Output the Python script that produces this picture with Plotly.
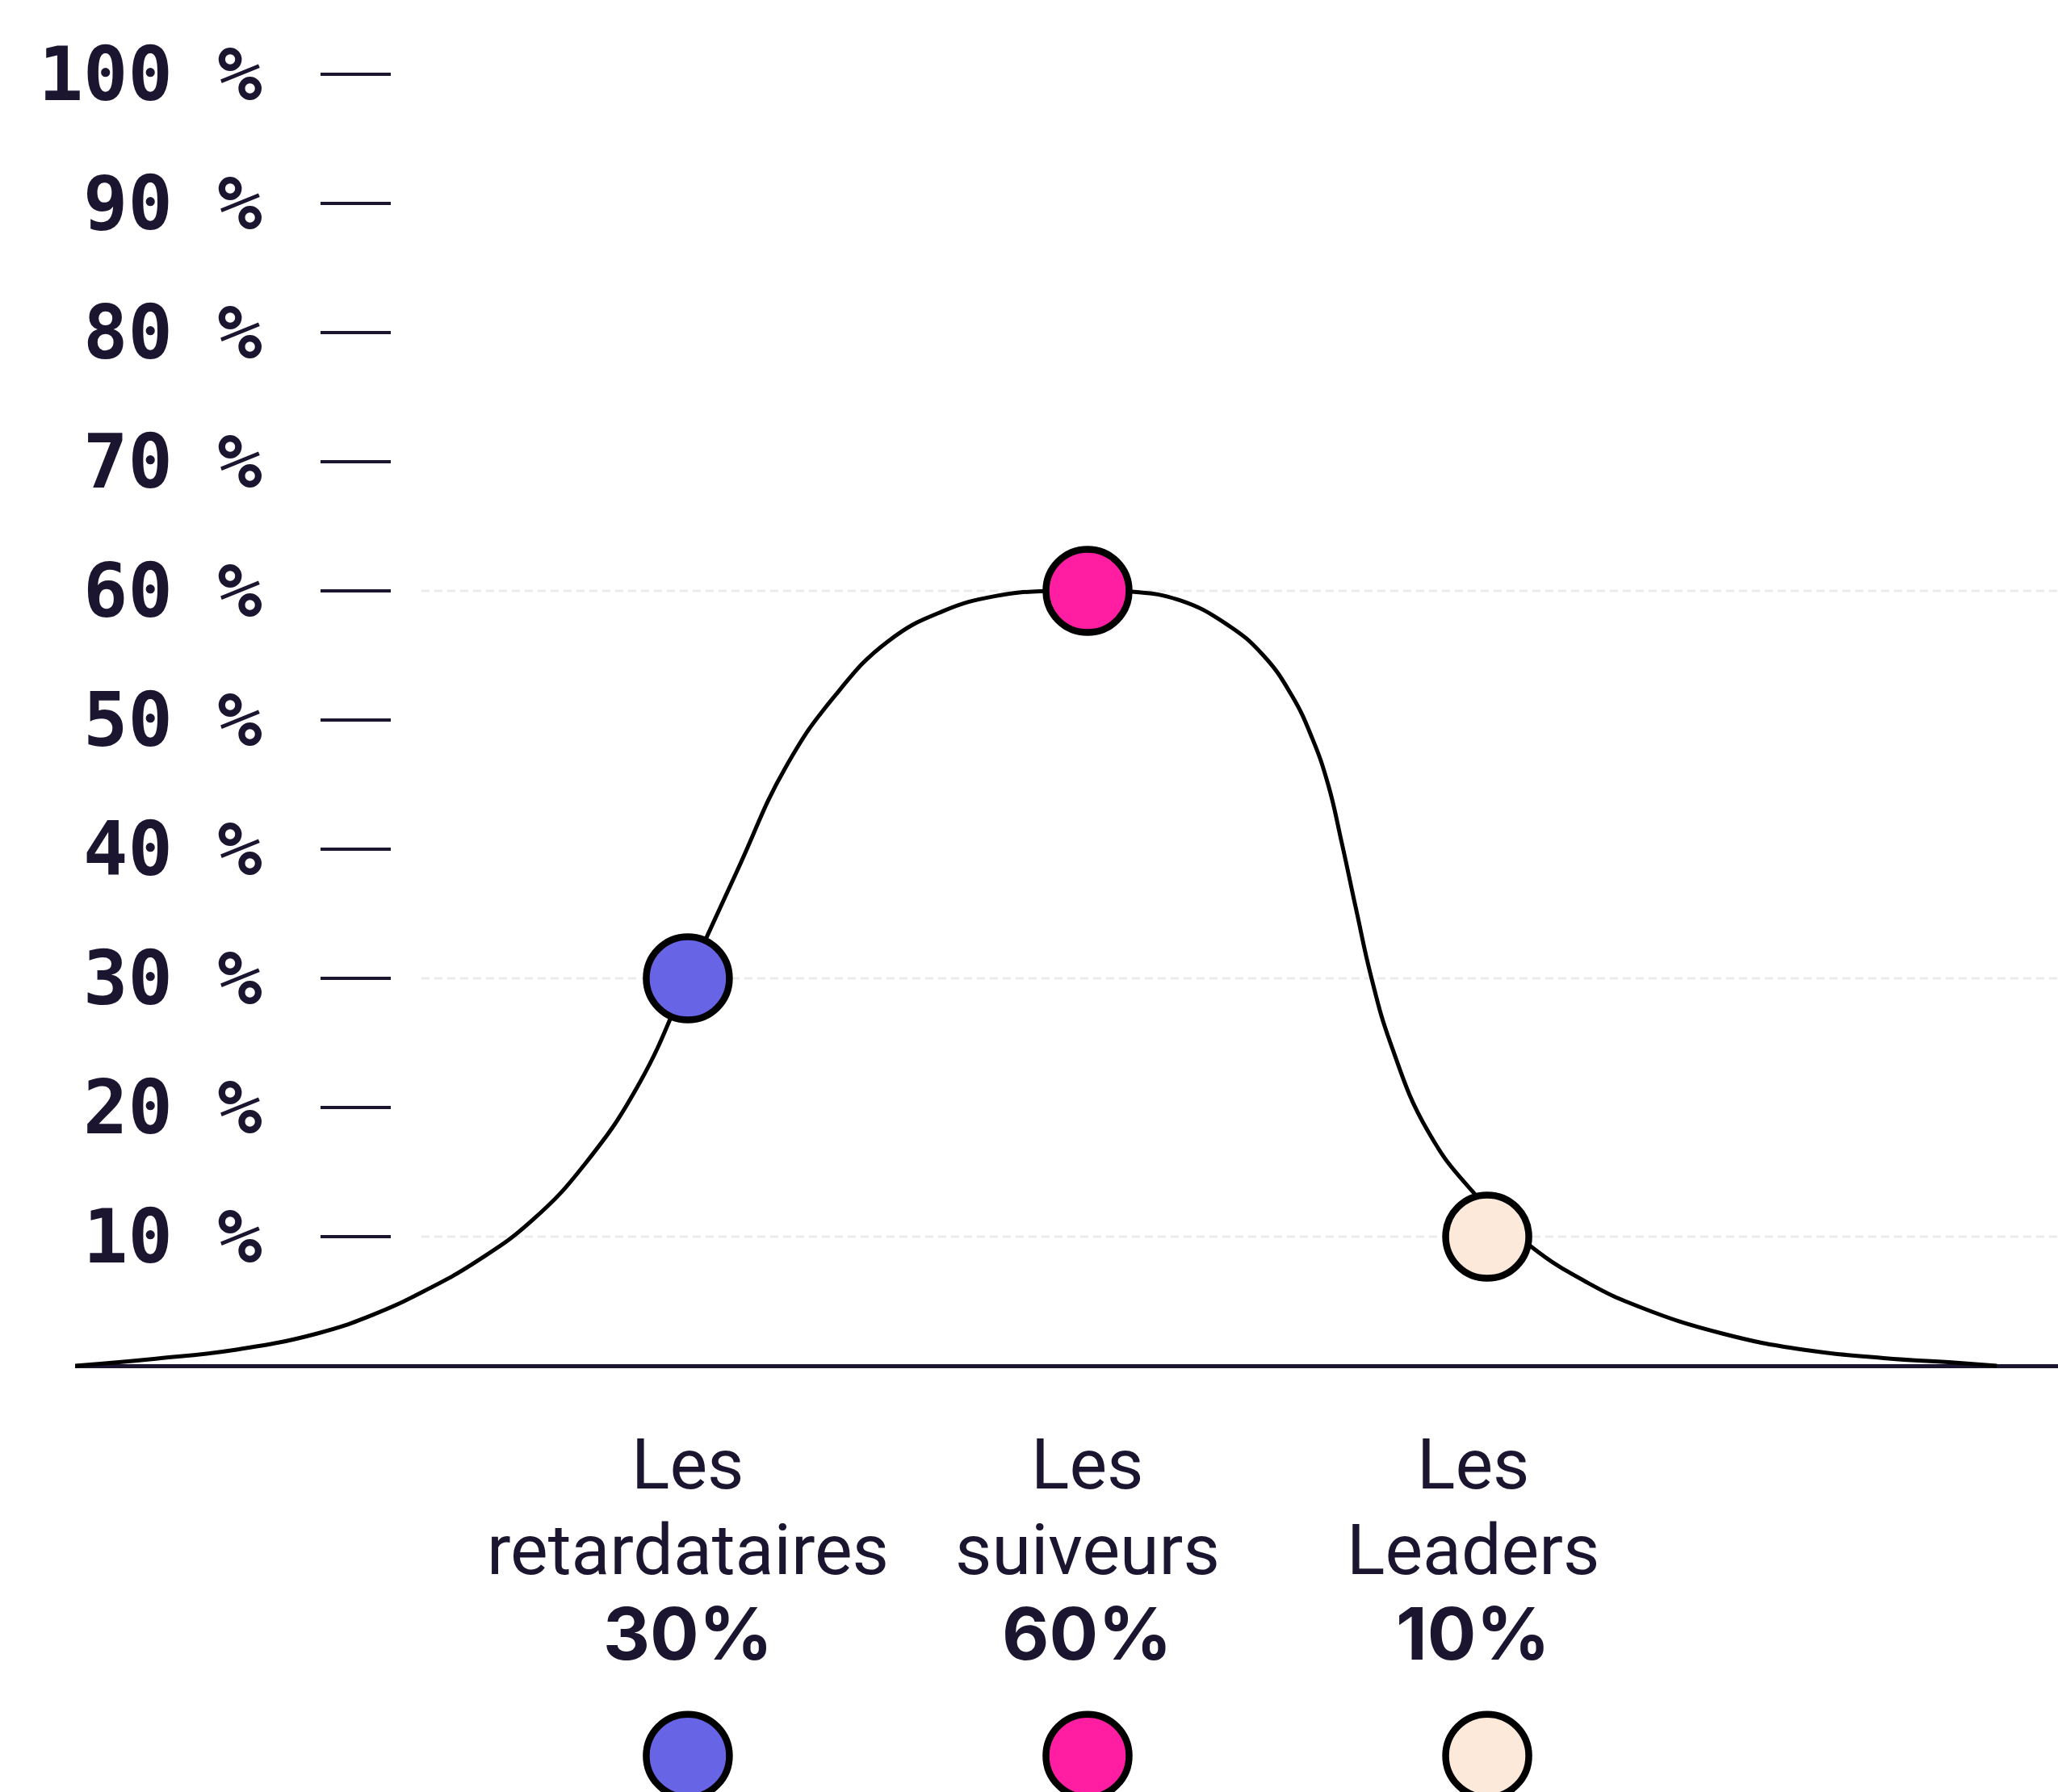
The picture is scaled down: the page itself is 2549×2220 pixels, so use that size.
import plotly.graph_objects as go

# ---------------- data ----------------
categories = ["Les\nretardataires", "Les\nsuiveurs", "Les\nLeaders"]
shares = [30, 60, 10]
share_labels = ["30%", "60%", "10%"]
cat_x = [1, 2, 3]
marker_colors = ["#6764E6", "#FF1EA2", "#FDE9DA"]
legend_dot_y = -30.2

curve_x = [-0.533, -0.331, -0.129, 0.073, 0.208, 0.341, 0.477, 0.612, 0.747, 0.881,
           1.0, 1.123, 1.244, 1.366, 1.501, 1.636, 1.770, 1.905, 2.0, 2.107,
           2.228, 2.349, 2.440, 2.511, 2.562, 2.602, 2.636, 2.673, 2.709, 2.760,
           2.851, 2.966, 3.107, 3.253, 3.386, 3.588, 3.790, 3.992, 4.168, 4.275]
curve_y = [0, 0.55, 1.25, 2.5, 3.9, 5.8, 8.2, 11.3, 15.8, 22.0,
           30, 38.3, 46.3, 51.8, 56.1, 58.4, 59.6, 60.0, 60, 59.95,
           59.3, 57.4, 55.0, 51.9, 48.6, 45.0, 40.5, 35.2, 30.2, 24.8,
           18.2, 13.4, 9.3, 6.4, 4.5, 2.5, 1.25, 0.6, 0.25, 0]

y_tickvals = [10, 20, 30, 40, 50, 60, 70, 80, 90, 100]
y_ticktext = [f"{v} %" for v in y_tickvals]

# ---------------- figure ----------------
W, H = 2549, 2220
INK = "#1B1530"
PX_PER_UNIT = 16.0
Y_ZERO_PX = 1692
y_top = Y_ZERO_PX / PX_PER_UNIT
y_bottom = -(H - Y_ZERO_PX) / PX_PER_UNIT


def px_to_y(py):
    return (Y_ZERO_PX - py) / PX_PER_UNIT


fig = go.Figure()

fig.add_trace(go.Scatter(
    x=curve_x, y=curve_y, mode="lines",
    line=dict(color="#000000", width=5, shape="spline", smoothing=1.3),
    cliponaxis=False, hoverinfo="skip", showlegend=False))

marker_style = dict(size=103, color=marker_colors, line=dict(color="#000000", width=8.5))

fig.add_trace(go.Scatter(
    x=cat_x, y=shares, mode="markers", marker=marker_style,
    cliponaxis=False, hoverinfo="skip", showlegend=False))

# legend dots below the labels
fig.add_trace(go.Scatter(
    x=cat_x, y=[legend_dot_y] * len(cat_x), mode="markers", marker=marker_style,
    cliponaxis=False, hoverinfo="skip", showlegend=False))

# dashed reference lines at the marker levels
for v in shares:
    fig.add_shape(type="line", xref="paper", yref="y", x0=522 / W, x1=1, y0=v, y1=v,
                  line=dict(color="#ECECEC", width=3, dash="10px,6px"), layer="below")

# category labels
xshifts = [0, 0, -18]
for i, (name, pct) in enumerate(zip(categories, share_labels)):
    l1, l2 = name.split("\n")
    fig.add_annotation(x=cat_x[i], y=px_to_y(1813), xref="x", yref="y", text=l1,
                       showarrow=False, xanchor="center", yanchor="middle", xshift=xshifts[i],
                       font=dict(family="Roboto", size=88, color=INK))
    fig.add_annotation(x=cat_x[i], y=px_to_y(1919), xref="x", yref="y", text=l2,
                       showarrow=False, xanchor="center", yanchor="middle", xshift=xshifts[i],
                       font=dict(family="Roboto", size=88, color=INK))
    fig.add_annotation(x=cat_x[i], y=px_to_y(2023), xref="x", yref="y", text=pct,
                       showarrow=False, xanchor="center", yanchor="middle", xshift=xshifts[i],
                       font=dict(family="Inter", size=90, color=INK, weight="bold"))

fig.update_layout(
    width=W, height=H,
    margin=dict(l=0, r=0, t=0, b=0, pad=0),
    paper_bgcolor="white", plot_bgcolor="white",
    showlegend=False,
    xaxis=dict(domain=[93 / W, 1], range=[-0.533, 4.428], showgrid=False, zeroline=False,
               showticklabels=False, ticks="", showline=False, fixedrange=True),
    yaxis=dict(range=[y_bottom, y_top], anchor="free", position=484 / W,
               showgrid=False, showline=False,
               zeroline=True, zerolinecolor=INK, zerolinewidth=5,
               tickmode="array", tickvals=y_tickvals, ticktext=y_ticktext,
               ticks="outside", ticklen=87, tickwidth=4, tickcolor=INK,
               ticklabelstandoff=54,
               tickfont=dict(family="DejaVu Sans Mono", size=92, color=INK, weight="bold"),
               fixedrange=True),
)

fig.write_html("out.html", config={"displayModeBar": False})
